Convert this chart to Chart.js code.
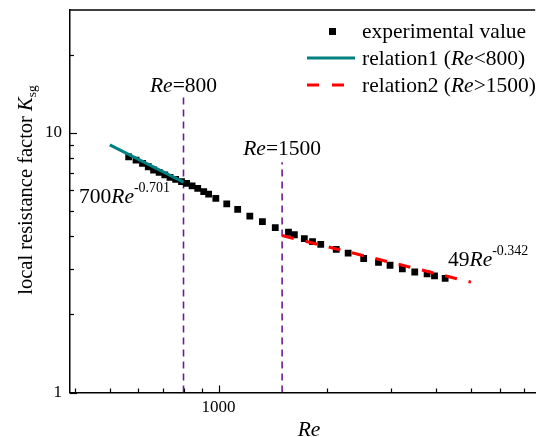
<!DOCTYPE html>
<html>
<head>
<meta charset="utf-8">
<script src="https://cdn.jsdelivr.net/npm/chart.js@4.4.0/dist/chart.umd.min.js"></script>
<style>
  html, body { margin: 0; padding: 0; background: #fff; overflow: hidden; }
  #wrap { width: 540px; height: 437px; }
</style>
</head>
<body>
<div id="wrap"><canvas id="kChart" width="540" height="437"></canvas></div>
<script>
// experimental points
var reExp = [564, 591, 616, 639, 661, 685, 710, 734, 761, 790, 816, 845, 876, 910, 939, 983,
             1054, 1130, 1221, 1323, 1436, 1562, 1622, 1728, 1821, 1919, 2118, 2285, 2523,
             2773, 2985, 3228, 3494, 3780, 3963, 4241]
var kExp = [8.08, 7.85, 7.63, 7.40, 7.19, 7.04, 6.88, 6.74, 6.62, 6.48, 6.39, 6.25, 6.11, 5.93, 5.80, 5.59,
            5.32, 5.07, 4.78, 4.55, 4.31, 4.14, 4.05, 3.91, 3.81, 3.72, 3.56, 3.44, 3.28,
            3.17, 3.09, 2.99, 2.91, 2.86, 2.81, 2.75]

// fitted relations, end points only (straight in log-log)
var rel1Re = [500, 800]
var rel1K = [8.98, 6.46]
var rel2Re = [1500, 5000]
var rel2K = [4.02, 2.66]

// Re=800 and Re=1500 guide lines
var markRe = [800, 1500]
var markTop = [14.2, 7.7]

var xTicks = [400, 500, 600, 700, 800, 900, 1000, 2000, 3000, 4000, 5000, 6000, 7000]
var xMajor = [1000]
var yTicks = [1, 2, 3, 4, 5, 6, 7, 8, 9, 10, 20]
var yMajor = [1, 10]

var serif = '"Liberation Serif", "Times New Roman", serif'
var big = 21.5
var sup = 14

function pts(xs, ys) {
    return xs.map(function (x, i) { return { x: x, y: ys[i] } })
}

function font(p) {
    return (p.it ? 'italic ' : '') + p.size + 'px ' + serif
}

// draws runs of text with mixed italic / super / subscript
function richWidth(ctx, parts) {
    var w = 0
    parts.forEach(function (p) { ctx.font = font(p); w += ctx.measureText(p.t).width })
    return w
}
function drawRich(ctx, parts, x, y) {
    parts.forEach(function (p) {
        ctx.font = font(p)
        ctx.fillText(p.t, x, y + (p.dy || 0))
        x += ctx.measureText(p.t).width
    })
}

var extras = {
    id: 'extras',
    afterDraw: function (chart) {
        var ctx = chart.ctx
        var a = chart.chartArea
        var xs = chart.scales.x
        var ys = chart.scales.y
        ctx.save()
        ctx.strokeStyle = '#000'
        ctx.fillStyle = '#000'

        // top frame line
        ctx.lineWidth = 1.5
        ctx.beginPath()
        ctx.moveTo(a.left, a.top)
        ctx.lineTo(a.right, a.top)
        ctx.stroke()

        // inward ticks
        ctx.lineWidth = 1.2
        xTicks.forEach(function (v) {
            var px = Math.round(xs.getPixelForValue(v)) + 0.5
            var len = xMajor.indexOf(v) >= 0 ? 7 : 4
            ctx.beginPath()
            ctx.moveTo(px, a.bottom)
            ctx.lineTo(px, a.bottom - len)
            ctx.stroke()
        })
        yTicks.forEach(function (v) {
            var py = Math.round(ys.getPixelForValue(v)) + 0.5
            var len = yMajor.indexOf(v) >= 0 ? 7 : 4
            ctx.beginPath()
            ctx.moveTo(a.left, py)
            ctx.lineTo(a.left + len, py)
            ctx.stroke()
        })

        ctx.textBaseline = 'alphabetic'
        ctx.textAlign = 'left'

        // guide line labels
        var lab1 = [{ t: 'Re', it: true, size: big }, { t: '=800', size: big }]
        var lab2 = [{ t: 'Re', it: true, size: big }, { t: '=1500', size: big }]
        var x1 = xs.getPixelForValue(markRe[0])
        var x2 = xs.getPixelForValue(markRe[1])
        drawRich(ctx, lab1, x1 - richWidth(ctx, lab1) / 2, ys.getPixelForValue(markTop[0]) - 1)
        drawRich(ctx, lab2, x2 - richWidth(ctx, lab2) / 2, ys.getPixelForValue(markTop[1]) - 7)

        // relation formulas
        drawRich(ctx, [{ t: '700', size: big }, { t: 'Re', it: true, size: big }, { t: '-0.701', size: sup, dy: -11 }], 79, 203)
        drawRich(ctx, [{ t: '49', size: big }, { t: 'Re', it: true, size: big }, { t: '-0.342', size: sup, dy: -11 }], 448, 266)

        // axis titles
        var xt = [{ t: 'Re', it: true, size: big }]
        drawRich(ctx, xt, 309 - richWidth(ctx, xt) / 2, 436)

        var yt = [{ t: 'local resistance factor ', size: 20.5 }, { t: 'K', it: true, size: 20.5 }, { t: 'sg', size: 13.5, dy: 4 }]
        ctx.save()
        ctx.translate(32, 190)
        ctx.rotate(-Math.PI / 2)
        drawRich(ctx, yt, -richWidth(ctx, yt) / 2, 0)
        ctx.restore()

        // legend
        ctx.fillRect(329, 28, 7, 7)
        ctx.strokeStyle = '#008080'
        ctx.lineWidth = 3
        ctx.beginPath()
        ctx.moveTo(307, 58)
        ctx.lineTo(355, 58)
        ctx.stroke()
        ctx.strokeStyle = '#ff0000'
        ctx.setLineDash([12, 13])
        ctx.beginPath()
        ctx.moveTo(307, 85)
        ctx.lineTo(346, 85)
        ctx.stroke()
        ctx.setLineDash([])
        drawRich(ctx, [{ t: 'experimental value', size: big }], 362, 38)
        drawRich(ctx, [{ t: 'relation1 (', size: big }, { t: 'Re', it: true, size: big }, { t: '<800)', size: big }], 362, 65)
        drawRich(ctx, [{ t: 'relation2 (', size: big }, { t: 'Re', it: true, size: big }, { t: '>1500)', size: big }], 362, 92)

        ctx.restore()
    }
}

var ctx = document.getElementById('kChart').getContext('2d')
var chart = new Chart(ctx, {
    type: 'scatter',
    data: {
        datasets: [
            {
                label: 'relation1 (Re<800)',
                data: pts(rel1Re, rel1K),
                showLine: true,
                borderColor: '#008080',
                borderWidth: 3,
                pointRadius: 0
            },
            {
                label: 'relation2 (Re>1500)',
                data: pts(rel2Re, rel2K),
                showLine: true,
                borderColor: '#ff0000',
                borderWidth: 3,
                borderDash: [12, 12],
                pointRadius: 0
            },
            {
                label: 'experimental value',
                data: pts(reExp, kExp),
                pointStyle: 'rect',
                pointRadius: 4.8,
                borderWidth: 0,
                backgroundColor: '#000'
            },
            {
                label: 'Re=800',
                data: [{ x: markRe[0], y: 1 }, { x: markRe[0], y: markTop[0] }],
                showLine: true,
                borderColor: '#6a1b9a',
                borderWidth: 1.6,
                borderDash: [7, 5],
                pointRadius: 0
            },
            {
                label: 'Re=1500',
                data: [{ x: markRe[1], y: 1 }, { x: markRe[1], y: markTop[1] }],
                showLine: true,
                borderColor: '#6a1b9a',
                borderWidth: 1.6,
                borderDash: [7, 5],
                pointRadius: 0
            }
        ]
    },
    options: {
        responsive: false,
        animation: false,
        layout: { padding: { top: 10, right: 0, left: 0, bottom: 0 } },
        plugins: { legend: { display: false }, tooltip: { enabled: false } },
        scales: {
            x: {
                type: 'logarithmic',
                min: 388,
                max: 7530,
                afterBuildTicks: function (s) { s.ticks = xMajor.map(function (v) { return { value: v } }) },
                afterFit: function (s) { s.height = 44.5; s.paddingLeft = 0; s.paddingRight = 0 },
                grid: { display: false, drawTicks: false },
                border: { display: true, color: '#000', width: 1.5 },
                ticks: {
                    autoSkip: false,
                    maxRotation: 0,
                    padding: 5,
                    color: '#000',
                    font: { family: serif, size: 17 },
                    callback: function (v) { return String(v) }
                }
            },
            y: {
                type: 'logarithmic',
                min: 1,
                max: 29.7,
                afterBuildTicks: function (s) { s.ticks = yMajor.map(function (v) { return { value: v } }) },
                afterFit: function (s) { s.width = 70; s.paddingTop = 0; s.paddingBottom = 0 },
                grid: { display: false, drawTicks: false },
                border: { display: true, color: '#000', width: 1.5 },
                ticks: {
                    autoSkip: false,
                    padding: 8,
                    color: '#000',
                    font: { family: serif, size: 17 },
                    callback: function (v) { return String(v) }
                }
            }
        }
    },
    plugins: [extras]
})
</script>
</body>
</html>
